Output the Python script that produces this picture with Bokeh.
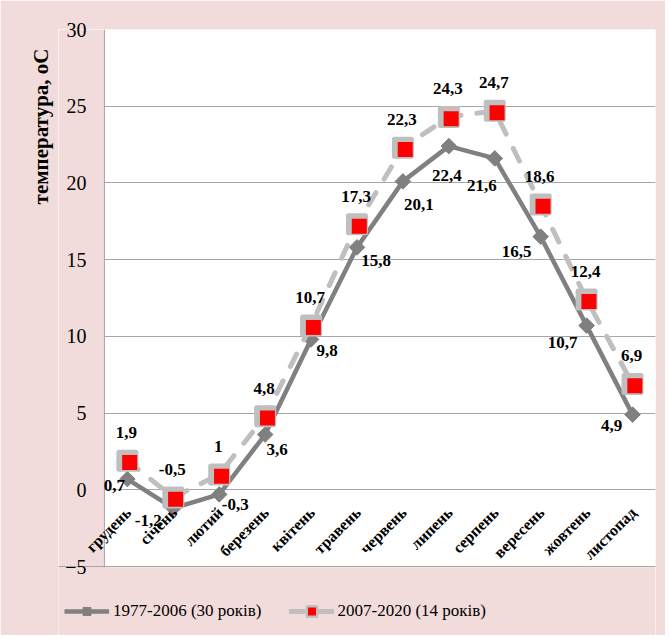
import math
from bokeh.plotting import figure
from bokeh.models import (FactorRange, Range1d, FixedTicker, Legend,
                          LegendItem, ColumnDataSource, Title, Span,
                          BoxAnnotation)
from bokeh.core.properties import value
from bokeh.transform import dodge
from bokeh.embed import file_html
from bokeh.resources import INLINE

# ---- data ----
months = ["грудень", "січень", "лютий", "березень", "квітень", "травень",
          "червень", "липень", "серпень", "вересень", "жовтень", "листопад"]
t_1977_2006 = [0.7, -1.2, -0.3, 3.6, 9.8, 15.8, 20.1, 22.4, 21.6, 16.5, 10.7, 4.9]
t_2007_2020 = [1.9, -0.5, 1.0, 4.8, 10.7, 17.3, 22.3, 24.3, 24.7, 18.6, 12.4, 6.9]
y_ticks = [-5, 0, 5, 10, 15, 20, 25, 30]
series_names = ["1977-2006 (30 років)", "2007-2020 (14 років)"]
y_title = "температура, оС"

# label offsets (screen px) for the data labels of the first series
lbl1_dx = [-13, -25, 16, 12, 16, 19, 16, -2, -13, -24, -24, -21]
lbl1_dy = [6, 12, 10, 15, 11, 13, 23, 29, 27, 15, 17, 11]


def fmt(v):
    return ("%g" % v).replace(".", ",")


SERIF = "Liberation Serif"
PINK = "#F2DCDB"
GRID = "#A6A6A6"

# layout geometry (pixels)
W, H = 665, 635
TOP, LEFT, RIGHT = 29, 58, 10
PLOT_H = 537                     # height of the white plot area (-5 .. 30)
y_lo, y_hi = min(y_ticks), max(y_ticks)
px_per_unit = PLOT_H / (y_hi - y_lo)
y_start = y_hi - (H - TOP) / px_per_unit   # frame runs down to the bottom

src1 = ColumnDataSource(dict(x=months, y=t_1977_2006,
                             lab=[fmt(v) for v in t_1977_2006],
                             dx=lbl1_dx, dy=lbl1_dy))
src2 = ColumnDataSource(dict(x=months, y=t_2007_2020,
                             lab=[fmt(v) for v in t_2007_2020]))
srcx = ColumnDataSource(dict(x=months, y=[0] * len(months), lab=months))

# one empty slot on the left gives room for the slanted first label
p = figure(width=W, height=H, output_backend="svg", toolbar_location=None,
           x_range=FactorRange(*([" "] + months)),
           y_range=Range1d(y_start, y_hi),
           x_axis_location=None,
           min_border_left=LEFT, min_border_right=RIGHT, min_border_top=TOP,
           min_border_bottom=0)
p.background_fill_color = "white"
p.border_fill_color = PINK
p.outline_line_color = None

p.xgrid.grid_line_color = None
p.ygrid.grid_line_color = GRID
p.ygrid.grid_line_width = 1

# pink strips over the empty slot and under the plot area (under the glyphs)
p.add_layout(BoxAnnotation(right=1, fill_color=PINK, fill_alpha=1,
                           line_color=None, level="underlay"))
p.add_layout(Span(location=1, dimension="height", line_color=GRID,
                  line_width=1, level="underlay"))
p.add_layout(BoxAnnotation(top=y_lo - 0.05, fill_color=PINK, fill_alpha=1,
                           line_color=None, level="underlay"))
p.add_layout(Span(location=y_lo, dimension="width", line_color=GRID,
                  line_width=1, level="underlay"))

p.yaxis.ticker = FixedTicker(ticks=y_ticks)
p.yaxis.axis_line_color = None
p.yaxis.major_tick_line_color = None
p.yaxis.major_tick_out = 0
p.yaxis.major_tick_in = 0
p.yaxis.minor_tick_line_color = None
p.yaxis.major_label_text_font = SERIF
p.yaxis.major_label_text_font_size = "20px"
p.yaxis.major_label_text_color = "black"
p.yaxis.major_label_standoff = -28

# series 1
l1 = p.line("x", "y", source=src1, line_color="#808080", line_width=4.5)
m1 = p.scatter("x", "y", source=src1, marker="square", angle=math.pi / 4,
               size=11, fill_color="#808080", line_color="#808080")
# series 2
l2 = p.line("x", "y", source=src2, line_color="#BFBFBF", line_width=5,
            line_dash="14 16", line_cap="round")
m2a = p.scatter("x", "y", source=src2, marker="square", size=17,
                fill_color="#BFBFBF", line_color="#BFBFBF", line_width=5,
                line_join="round")
m2b = p.scatter(x=dodge("x", 0.05, range=p.x_range), y=dodge("y", -0.12),
                source=src2, marker="square", size=15,
                fill_color="#FF0000", line_color=None)

# data labels
p.text("x", "y", text="lab", source=src1, x_offset="dx", y_offset="dy",
       text_align="center", text_baseline="middle",
       text_font=value(SERIF), text_font_style="bold", text_font_size="17px",
       text_color="black")
p.text("x", "y", text="lab", source=src2, x_offset=-1, y_offset=-28,
       text_align="center", text_baseline="middle",
       text_font=value(SERIF), text_font_style="bold", text_font_size="17px",
       text_color="black")

# category labels under the zero line
p.text("x", "y", text="lab", source=srcx, angle=math.pi / 4,
       x_offset=1, y_offset=20, text_align="right", text_baseline="middle",
       text_font=value(SERIF), text_font_style="bold", text_font_size="16px",
       text_color="black")

# y title (upper part of the left side)
p.add_layout(Title(text=y_title, align="right", offset=19, standoff=11,
                   text_font=SERIF, text_font_style="bold",
                   text_font_size="21px", text_color="black"), "left")

legend = Legend(items=[LegendItem(label=series_names[0], renderers=[l1, m1]),
                       LegendItem(label=series_names[1], renderers=[l2, m2a, m2b])],
                orientation="horizontal", location=(6, 14),
                background_fill_alpha=0, border_line_color=None,
                label_text_font=SERIF, label_text_font_size="17px",
                label_text_color="black", glyph_width=45, glyph_height=20,
                label_height=20, label_standoff=4, spacing=27, padding=0,
                margin=0)
p.add_layout(legend, "center")

open("out.html", "w").write(file_html(p, INLINE))
